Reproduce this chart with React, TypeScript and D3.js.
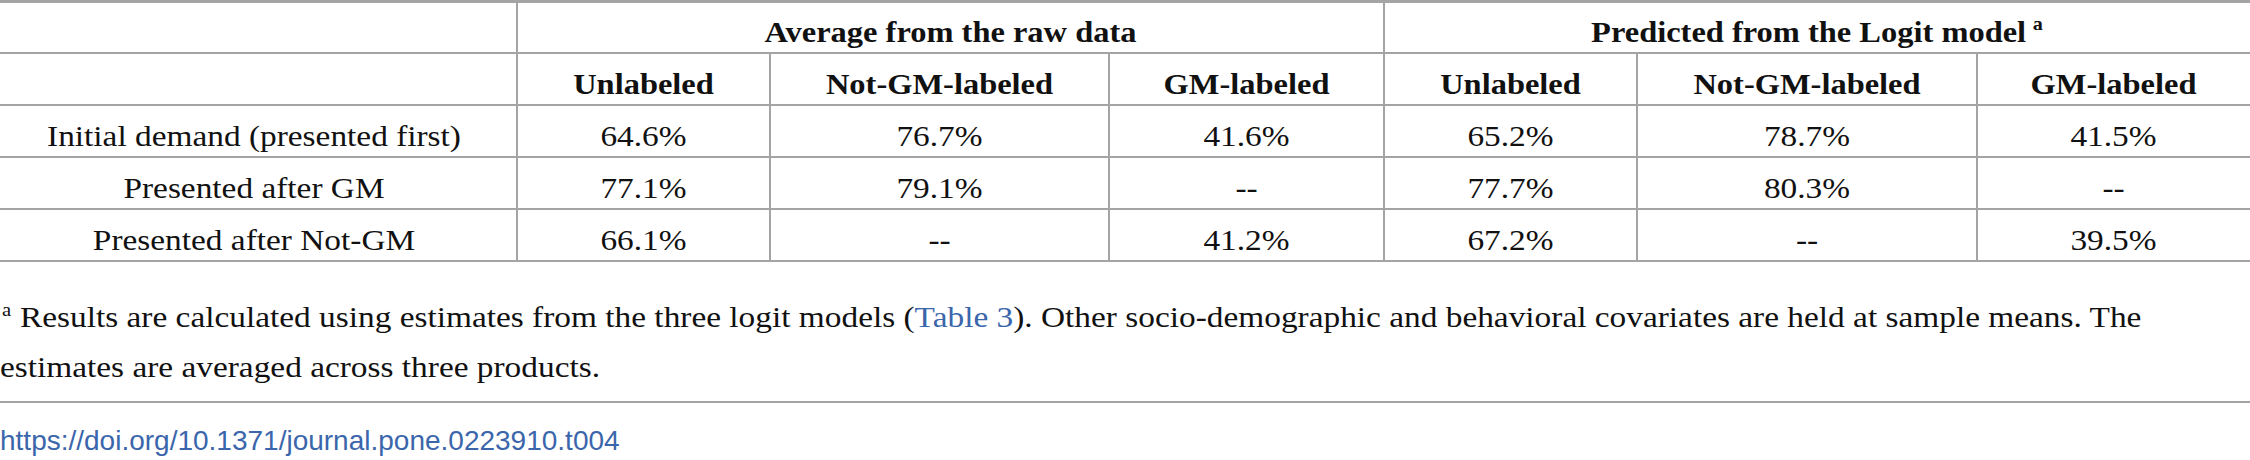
import * as d3 from "d3";

// table content
const rowLabels = ["Initial demand (presented first)", "Presented after GM", "Presented after Not-GM"];
const groupLabels = ["Average from the raw data", "Predicted from the Logit model"];
const groupNotes = ["", "a"];
const subLabels = ["Unlabeled", "Not-GM-labeled", "GM-labeled"];
const rawValues = [
  [64.6, 76.7, 41.6],
  [77.1, 79.1, null],
  [66.1, null, 41.2],
];
const logitValues = [
  [65.2, 78.7, 41.5],
  [77.7, 80.3, null],
  [67.2, null, 39.5],
];
const footBefore = "Results are calculated using estimates from the three logit models (";
const footLink = "Table 3";
const footAfter = "). Other socio-demographic and behavioral covariates are held at sample means. The";
const footLine2 = "estimates are averaged across three products.";
const doi = "https://doi.org/10.1371/journal.pone.0223910.t004";

export default function App() {
  const width = 2250;
  const height = 460;
  const fs = 29;
  const sx = 1.15; // regular text
  const sxBold = 1.12;
  const lineColor = "#a4a4a4";
  const linkColor = "#3b66ab";

  // column edges (label column + 2 groups x 3)
  const colWidths = [517, 253, 339, 275, 253, 340, 273];
  const edges = [0, ...d3.cumsum(colWidths)];
  const colMid = (i) => (edges[i] + edges[i + 1]) / 2;

  const rowKeys = ["group", "sub", ...rowLabels.map((d, i) => "r" + i)];
  const y = d3.scaleBand().domain(rowKeys).range([1, 261]);
  const base = (k) => y(k) + 41;

  const fmt = (v) => (v == null ? "--" : d3.format(".1f")(v) + "%");
  const allValues = [rawValues, logitValues];

  const txt = (x, yy, s, opts = {}) => (
    <text
      transform={`translate(${x},${yy}) scale(${opts.bold ? sxBold : sx},1)`}
      textAnchor={opts.anchor || "middle"}
      fontWeight={opts.bold ? "bold" : "normal"}
      fontSize={opts.size || fs}
    >
      {s}
    </text>
  );

  const hLines = rowKeys.slice(1).map((k) => y(k)).concat([y(rowKeys[rowKeys.length - 1]) + y.bandwidth()]);
  const tableBottom = hLines[hLines.length - 1];

  return (
    <svg
      width={width}
      height={height}
      style={{ position: "absolute", left: 0, top: 0, background: "#fff" }}
      fontFamily="'Liberation Serif', 'Times New Roman', serif"
      fill="#111"
    >
      <g stroke={lineColor} strokeWidth={2}>
        <line x1={0} x2={width} y1={1.5} y2={1.5} strokeWidth={3} />
        {hLines.map((v, i) => (
          <line key={i} x1={0} x2={width} y1={v} y2={v} />
        ))}
        {[1, 4].map((i) => (
          <line key={"g" + i} x1={edges[i]} x2={edges[i]} y1={0} y2={tableBottom} />
        ))}
        {[2, 3, 5, 6].map((i) => (
          <line key={"s" + i} x1={edges[i]} x2={edges[i]} y1={y("sub")} y2={tableBottom} />
        ))}
        <line x1={0} x2={width} y1={402} y2={402} />
      </g>

      {groupLabels.map((g, gi) => {
        const cx = (edges[1 + gi * 3] + edges[4 + gi * 3]) / 2;
        return (
          <text
            key={g}
            transform={`translate(${cx},${base("group")}) scale(${sxBold},1)`}
            textAnchor="middle"
            fontWeight="bold"
            fontSize={fs}
          >
            {g}
            {groupNotes[gi] && (
              <tspan fontSize={18} dx={6} dy={-12}>
                {groupNotes[gi]}
              </tspan>
            )}
          </text>
        );
      })}

      {groupLabels.map((g, gi) =>
        subLabels.map((s, si) => (
          <g key={g + s}>{txt(colMid(1 + gi * 3 + si), base("sub"), s, { bold: true })}</g>
        ))
      )}

      {rowLabels.map((r, ri) => (
        <g key={r}>
          {txt(254, base("r" + ri), r)}
          {allValues.map((vals, gi) =>
            vals[ri].map((v, si) => (
              <g key={gi + "-" + si}>{txt(colMid(1 + gi * 3 + si), base("r" + ri), fmt(v))}</g>
            ))
          )}
        </g>
      ))}

      <text transform={`translate(2,316) scale(${sx},1)`} fontSize={18}>a</text>
      <text transform={`translate(20,327) scale(${sx},1)`} fontSize={fs}>
        {footBefore}
        <tspan fill={linkColor}>{footLink}</tspan>
        {footAfter}
      </text>
      <text transform={`translate(0,377) scale(${sx},1)`} fontSize={fs}>
        {footLine2}
      </text>

      <text
        x={0}
        y={450}
        fontFamily="'Liberation Sans', Arial, sans-serif"
        fontSize={28}
        fill={linkColor}
      >
        {doi}
      </text>
    </svg>
  );
}
